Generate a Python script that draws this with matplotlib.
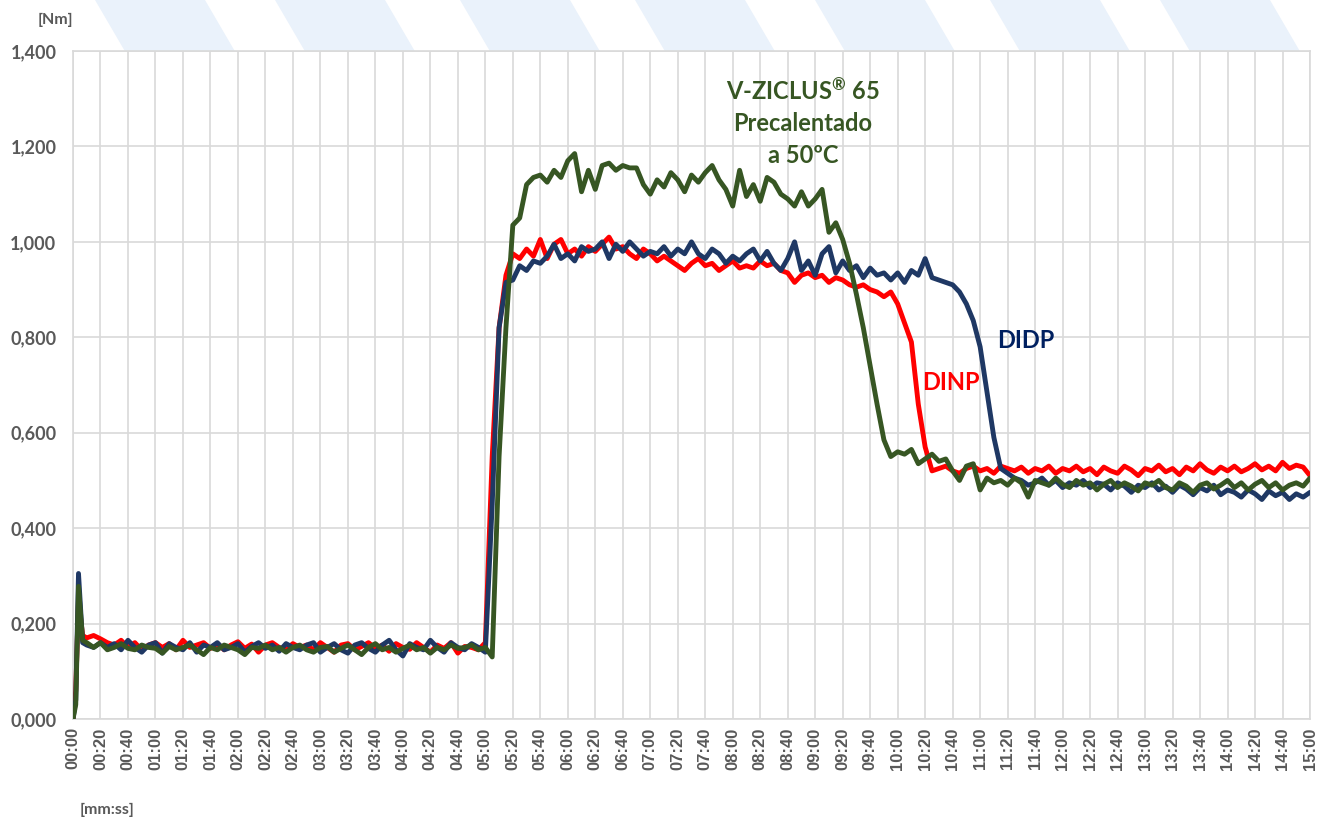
#!/usr/bin/env python3
"""
Torque curves (Nm) vs time for DINP, DIDP and V-ZICLUS 65 preheated at 50 C.
"""
import matplotlib
matplotlib.use("Agg")
import matplotlib.pyplot as plt
from matplotlib.patches import Polygon
from matplotlib.ticker import FuncFormatter, MultipleLocator

# time in seconds: a few points for the start-up spike, then every 5 s
time_s = [0, 2, 4, 7] + list(range(10, 901, 5))

dinp = [
    0.000, 0.060, 0.250, 0.175,
    0.170, 0.175, 0.168, 0.160, 0.155, 0.165, 0.150, 0.160, 0.145, 0.155,  # 10-55
    0.160, 0.150, 0.158, 0.145, 0.165, 0.150, 0.155, 0.160, 0.148, 0.158,  # 60-105
    0.145, 0.155, 0.162, 0.148, 0.157, 0.140, 0.155, 0.160, 0.150, 0.145,  # 110-155
    0.158, 0.150, 0.155, 0.145, 0.160, 0.150, 0.140, 0.155, 0.158, 0.145,  # 160-205
    0.152, 0.160, 0.148, 0.155, 0.142, 0.158, 0.150, 0.146, 0.160, 0.150,  # 210-255
    0.140, 0.155, 0.148, 0.160, 0.138, 0.152, 0.150, 0.145, 0.160, 0.550,  # 260-305
    0.820, 0.930, 0.975, 0.965, 0.985, 0.970, 1.005, 0.965, 0.995, 1.005,  # 310-355
    0.975, 0.985, 0.970, 0.990, 0.980, 0.995, 1.010, 0.985, 0.990, 0.975,  # 360-405
    0.965, 0.985, 0.975, 0.960, 0.970, 0.960, 0.950, 0.940, 0.955, 0.965,  # 410-455
    0.950, 0.955, 0.940, 0.950, 0.960, 0.945, 0.950, 0.945, 0.960, 0.950,  # 460-505
    0.955, 0.940, 0.935, 0.915, 0.930, 0.935, 0.925, 0.930, 0.915, 0.925,  # 510-555
    0.920, 0.910, 0.905, 0.910, 0.900, 0.895, 0.885, 0.895, 0.870, 0.830,  # 560-605
    0.790, 0.660, 0.570, 0.520, 0.525, 0.530, 0.520, 0.515, 0.525, 0.530,  # 610-655
    0.520, 0.525, 0.515, 0.530, 0.525, 0.520, 0.528, 0.515, 0.525, 0.520,  # 660-705
    0.530, 0.515, 0.525, 0.520, 0.530, 0.518, 0.525, 0.512, 0.528, 0.520,  # 710-755
    0.515, 0.530, 0.522, 0.510, 0.525, 0.520, 0.532, 0.518, 0.525, 0.512,  # 760-805
    0.528, 0.520, 0.535, 0.522, 0.515, 0.528, 0.520, 0.530, 0.518, 0.525,  # 810-855
    0.535, 0.522, 0.530, 0.520, 0.538, 0.525, 0.532, 0.528, 0.510,         # 860-900
]

didp = [
    0.000, 0.040, 0.305, 0.160,
    0.155, 0.150, 0.160, 0.150, 0.158, 0.145, 0.165, 0.150, 0.140, 0.155,  # 10-55
    0.160, 0.138, 0.158, 0.150, 0.145, 0.160, 0.140, 0.155, 0.150, 0.160,  # 60-105
    0.145, 0.150, 0.158, 0.140, 0.152, 0.160, 0.148, 0.155, 0.142, 0.158,  # 110-155
    0.150, 0.145, 0.155, 0.160, 0.140, 0.150, 0.158, 0.145, 0.138, 0.155,  # 160-205
    0.160, 0.148, 0.140, 0.155, 0.165, 0.145, 0.132, 0.158, 0.150, 0.145,  # 210-255
    0.165, 0.150, 0.140, 0.160, 0.150, 0.145, 0.158, 0.150, 0.140, 0.450,  # 260-305
    0.820, 0.915, 0.920, 0.950, 0.940, 0.960, 0.955, 0.970, 0.995, 0.965,  # 310-355
    0.975, 0.960, 0.990, 0.980, 0.985, 1.000, 0.965, 0.995, 0.980, 1.000,  # 360-405
    0.985, 0.970, 0.980, 0.975, 0.990, 0.970, 0.985, 0.975, 1.000, 0.975,  # 410-455
    0.965, 0.985, 0.975, 0.955, 0.970, 0.960, 0.975, 0.985, 0.960, 0.980,  # 460-505
    0.955, 0.940, 0.965, 1.000, 0.940, 0.960, 0.930, 0.975, 0.990, 0.935,  # 510-555
    0.960, 0.940, 0.950, 0.925, 0.945, 0.930, 0.935, 0.920, 0.935, 0.915,  # 560-605
    0.940, 0.930, 0.965, 0.925, 0.920, 0.915, 0.910, 0.895, 0.870, 0.835,  # 610-655
    0.780, 0.685, 0.590, 0.525, 0.515, 0.505, 0.500, 0.490, 0.495, 0.505,  # 660-705
    0.490, 0.500, 0.485, 0.495, 0.490, 0.500, 0.485, 0.495, 0.492, 0.480,  # 710-755
    0.495, 0.488, 0.475, 0.490, 0.485, 0.495, 0.480, 0.488, 0.475, 0.490,  # 760-805
    0.482, 0.470, 0.485, 0.478, 0.490, 0.470, 0.480, 0.475, 0.465, 0.480,  # 810-855
    0.472, 0.460, 0.478, 0.468, 0.475, 0.460, 0.472, 0.465, 0.475,         # 860-900
]

vziclus = [
    0.000, 0.030, 0.278, 0.165,
    0.160, 0.150, 0.160, 0.145, 0.150, 0.158, 0.148, 0.145, 0.155, 0.150,  # 10-55
    0.148, 0.138, 0.152, 0.145, 0.150, 0.155, 0.145, 0.135, 0.150, 0.145,  # 60-105
    0.155, 0.150, 0.145, 0.135, 0.150, 0.148, 0.155, 0.145, 0.150, 0.140,  # 110-155
    0.150, 0.155, 0.145, 0.140, 0.150, 0.152, 0.140, 0.148, 0.155, 0.145,  # 160-205
    0.135, 0.150, 0.158, 0.145, 0.150, 0.140, 0.148, 0.155, 0.145, 0.150,  # 210-255
    0.138, 0.150, 0.145, 0.155, 0.148, 0.150, 0.155, 0.145, 0.150, 0.130,  # 260-305
    0.550, 0.820, 1.035, 1.050, 1.120, 1.135, 1.140, 1.125, 1.150, 1.135,  # 310-355
    1.170, 1.185, 1.105, 1.150, 1.110, 1.160, 1.165, 1.150, 1.160, 1.155,  # 360-405
    1.155, 1.120, 1.100, 1.130, 1.115, 1.145, 1.130, 1.105, 1.140, 1.125,  # 410-455
    1.145, 1.160, 1.130, 1.110, 1.075, 1.150, 1.095, 1.120, 1.085, 1.135,  # 460-505
    1.125, 1.100, 1.090, 1.075, 1.105, 1.075, 1.090, 1.110, 1.020, 1.040,  # 510-555
    1.005, 0.955, 0.890, 0.820, 0.740, 0.660, 0.585, 0.550, 0.560, 0.555,  # 560-605
    0.565, 0.535, 0.545, 0.555, 0.540, 0.545, 0.520, 0.500, 0.530, 0.535,  # 610-655
    0.480, 0.505, 0.495, 0.500, 0.490, 0.505, 0.495, 0.465, 0.500, 0.495,  # 660-705
    0.490, 0.505, 0.492, 0.485, 0.500, 0.490, 0.495, 0.480, 0.492, 0.500,  # 710-755
    0.485, 0.495, 0.488, 0.478, 0.495, 0.490, 0.500, 0.485, 0.480, 0.495,  # 760-805
    0.488, 0.475, 0.490, 0.495, 0.482, 0.490, 0.500, 0.485, 0.495, 0.480,  # 810-855
    0.492, 0.500, 0.485, 0.495, 0.480, 0.490, 0.495, 0.488, 0.505,         # 860-900
]

series = [("DINP", dinp, "#FF0000"),
          ("DIDP", didp, "#1F3864"),
          ("V-ZICLUS® 65", vziclus, "#375623")]

GRID = "#D9D9D9"
TXT = "#595959"


def mmss(v, _pos):
    v = int(round(v))
    return f"{v // 60:02d}:{v % 60:02d}"


def comma3(v, _pos):
    return f"{v:.3f}".replace(".", ",")


def main():
    plt.rcParams["mathtext.fontset"] = "custom"
    plt.rcParams["mathtext.rm"] = "Lato:bold"
    plt.rcParams["mathtext.it"] = "Lato:bold"
    plt.rcParams["mathtext.bf"] = "Lato:bold"

    fig = plt.figure(figsize=(13.17, 8.21), dpi=100)

    # faint watermark stripes in the top strip
    for x0 in [95, 275, 460, 635, 815, 990, 1160]:
        pts = [(x0 / 1317, 1.0), ((x0 + 110) / 1317, 1.0),
               ((x0 + 145) / 1317, 1 - 60 / 821), ((x0 + 35) / 1317, 1 - 60 / 821)]
        fig.patches.append(Polygon(pts, closed=True, transform=fig.transFigure,
                                   facecolor="#EAF2FB", edgecolor="none", zorder=0))

    ax = fig.add_axes([73 / 1317, 1 - 719 / 821, (1310 - 73) / 1317, (719 - 51) / 821])
    ax.set_zorder(1)

    for name, vals, col in series:
        assert len(vals) == len(time_s), name
        ax.plot(time_s, vals, color=col, lw=3.5, solid_joinstyle="round",
                solid_capstyle="round", zorder=3)

    ax.set_xlim(0, 900)
    ax.set_ylim(0, 1.4)
    ax.xaxis.set_major_locator(MultipleLocator(20))
    ax.yaxis.set_major_locator(MultipleLocator(0.2))
    ax.xaxis.set_major_formatter(FuncFormatter(mmss))
    ax.yaxis.set_major_formatter(FuncFormatter(comma3))
    ax.grid(True, color=GRID, lw=1.2)
    ax.set_axisbelow(True)
    for sp in ax.spines.values():
        sp.set_color(GRID)
        sp.set_linewidth(1.2)
    ax.tick_params(axis="x", length=0, pad=6)
    ax.tick_params(axis="y", length=0, pad=12)
    for lab in ax.get_xticklabels():
        lab.set_rotation(90)
        lab.set_fontfamily("Liberation Sans")
        lab.set_fontweight("bold")
        lab.set_fontsize(12)
        lab.set_color(TXT)
    for lab in ax.get_yticklabels():
        lab.set_fontfamily("Lato")
        lab.set_fontweight("bold")
        lab.set_fontsize(13)
        lab.set_color(TXT)

    ax.text(531, 1.251, "V-ZICLUS$^{®}$ 65\nPrecalentado\na 50ºC", ha="center", va="center",
            fontsize=17, fontweight="bold", family="Lato", color="#375623",
            linespacing=1.45, zorder=4)
    ax.text(693, 0.794, "DIDP", ha="center", va="center", fontsize=17,
            fontweight="bold", family="Lato", color="#002060", zorder=4)
    ax.text(639, 0.706, "DINP", ha="center", va="center", fontsize=17,
            fontweight="bold", family="Lato", color="#FF0000", zorder=4)

    fig.text(55 / 1317, 1 - 20 / 821, "[Nm]", ha="center", va="center",
             fontsize=11.5, fontweight="bold", family="Lato", color=TXT)
    fig.text(107 / 1317, 1 - 810 / 821, "[mm:ss]", ha="center", va="center",
             fontsize=11.5, fontweight="bold", family="Lato", color=TXT)

    fig.savefig("out.png", dpi=100)


if __name__ == '__main__':
    main()
